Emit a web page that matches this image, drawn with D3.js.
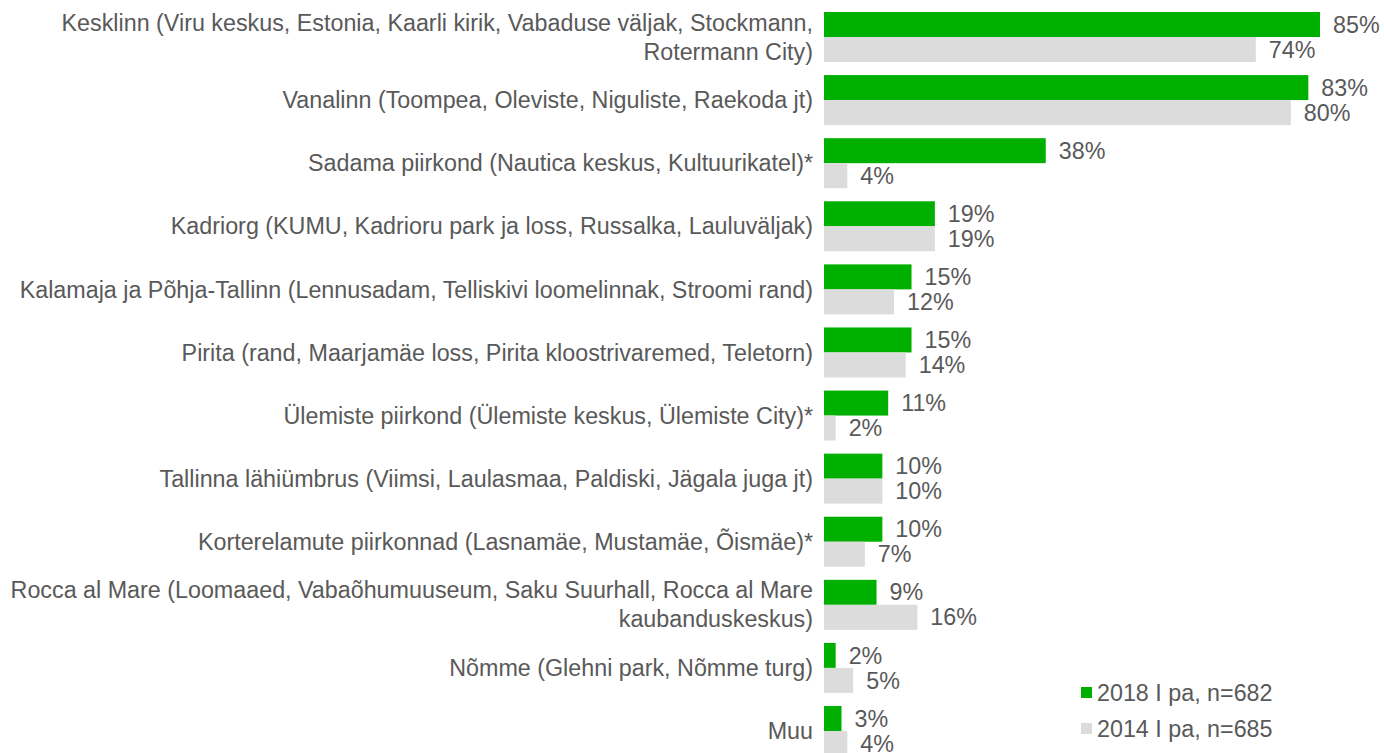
<!DOCTYPE html>
<html>
<head>
<meta charset="UTF-8" />
<script src="https://cdn.jsdelivr.net/npm/d3@7/dist/d3.min.js"></script>
<style>
  body { margin: 0; background: #fff; }
  svg text { font-family: "Liberation Sans", Arial, sans-serif; fill: #595959; }
</style>
</head>
<body>
<div id="chart"></div>
<script>
// data
const categories = [
  ["Kesklinn (Viru keskus, Estonia, Kaarli kirik, Vabaduse väljak, Stockmann,", "Rotermann City)"],
  ["Vanalinn (Toompea, Oleviste, Niguliste, Raekoda jt)"],
  ["Sadama piirkond (Nautica keskus, Kultuurikatel)*"],
  ["Kadriorg (KUMU, Kadrioru park ja loss, Russalka, Lauluväljak)"],
  ["Kalamaja ja Põhja-Tallinn (Lennusadam, Telliskivi loomelinnak, Stroomi rand)"],
  ["Pirita (rand, Maarjamäe loss, Pirita kloostrivaremed, Teletorn)"],
  ["Ülemiste piirkond (Ülemiste keskus, Ülemiste City)*"],
  ["Tallinna lähiümbrus (Viimsi, Laulasmaa, Paldiski, Jägala juga jt)"],
  ["Korterelamute piirkonnad (Lasnamäe, Mustamäe, Õismäe)*"],
  ["Rocca al Mare (Loomaaed, Vabaõhumuuseum, Saku Suurhall, Rocca al Mare", "kaubanduskeskus)"],
  ["Nõmme (Glehni park, Nõmme turg)"],
  ["Muu"]
];
const series = ["2018 I pa, n=682", "2014 I pa, n=685"];
const values2018 = [85, 83, 38, 19, 15, 15, 11, 10, 10, 9, 2, 3];
const values2014 = [74, 80, 4, 19, 12, 14, 2, 10, 7, 16, 5, 4];
const colors = ["#00b000", "#dcdcdc"];

const W = 1384, H = 753;
const fs = 23.3;
const svg = d3.select("#chart").append("svg")
    .attr("width", W).attr("height", H);

const keys = categories.map((d, i) => i);
const y = d3.scaleBand().domain(keys).range([12, 756]).paddingInner(0.2076);
const ySub = d3.scaleBand().domain([0, 1]).range([0, y.bandwidth()]);
const x = d3.scaleLinear().domain([0, 85]).range([824, 1320]);

const rows = keys.map(i => ({i, vals: [values2018[i], values2014[i]]}));

const g = svg.append("g");
const row = g.selectAll("g.row").data(rows).join("g")
    .attr("class", "row")
    .attr("transform", d => `translate(0,${y(d.i)})`);

row.selectAll("rect").data(d => d.vals.map((v, s) => ({v, s}))).join("rect")
    .attr("x", x(0))
    .attr("y", d => ySub(d.s))
    .attr("width", d => x(d.v) - x(0))
    .attr("height", ySub.bandwidth())
    .attr("fill", d => colors[d.s]);

row.selectAll("text.val").data(d => d.vals.map((v, s) => ({v, s}))).join("text")
    .attr("class", "val")
    .attr("x", d => x(d.v) + 13)
    .attr("y", d => ySub(d.s) + ySub.bandwidth() / 2)
    .attr("dy", "0.35em")
    .attr("font-size", fs)
    .text(d => d.v + "%");

// category labels
row.append("text")
    .attr("class", "cat")
    .attr("text-anchor", "end")
    .attr("font-size", fs)
    .attr("x", 813)
    .attr("y", y.bandwidth() / 2)
    .each(function(d) {
      const lines = categories[d.i];
      const t = d3.select(this);
      const lh = 29;
      lines.forEach((ln, k) => {
        t.append("tspan")
          .attr("x", 813)
          .attr("y", y.bandwidth() / 2 + (k - (lines.length - 1) / 2) * lh)
          .attr("dy", "0.35em")
          .text(ln);
      });
    });

// legend
const legend = svg.append("g").attr("transform", "translate(1081,687)");
const li = legend.selectAll("g").data(series).join("g")
    .attr("transform", (d, i) => `translate(0,${i * 36})`);
li.append("rect").attr("width", 11).attr("height", 11)
    .attr("fill", (d, i) => colors[i]);
li.append("text").attr("x", 16).attr("y", 6).attr("dy", "0.35em")
    .attr("font-size", fs).text(d => d);
</script>
</body>
</html>
